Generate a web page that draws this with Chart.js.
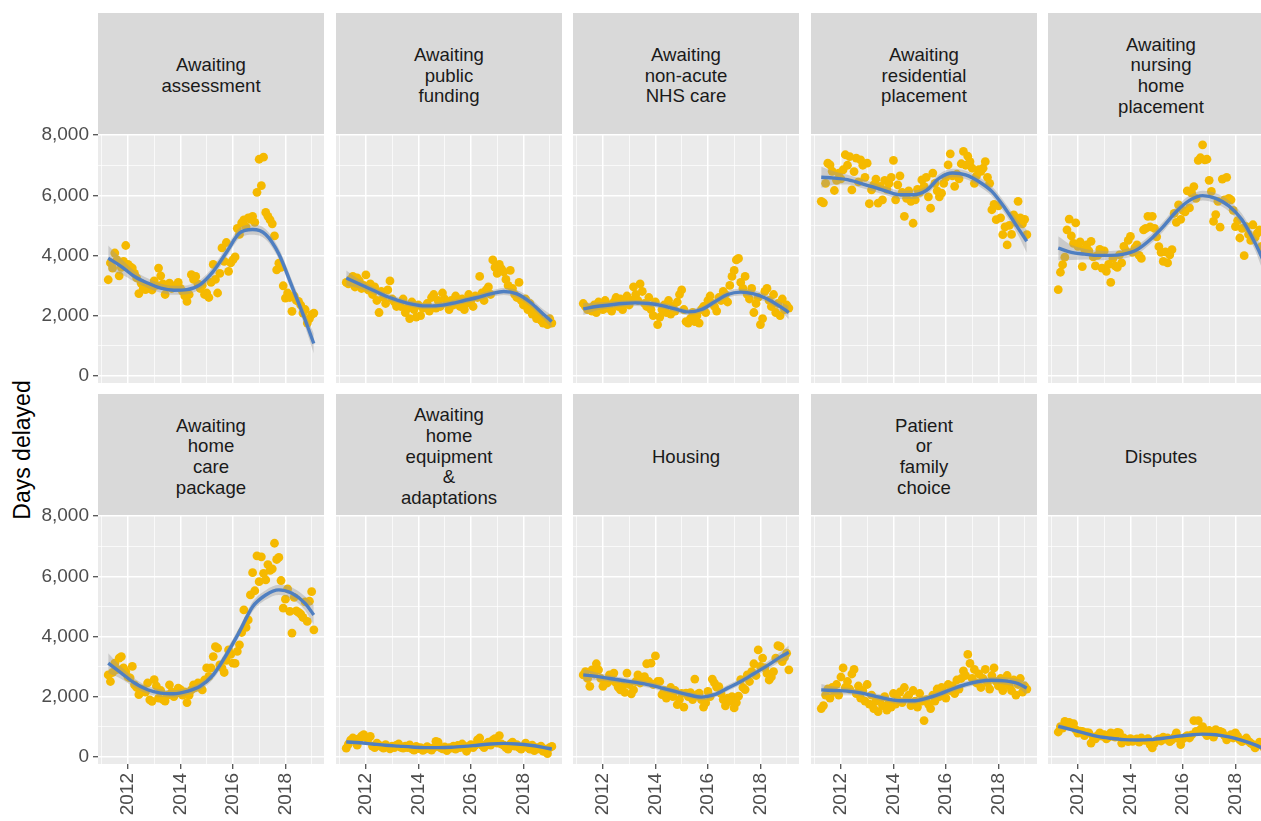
<!DOCTYPE html>
<html>
<head>
<meta charset="utf-8">
<script src="https://cdn.jsdelivr.net/npm/chart.js@4"></script>
<style>
  html, body { margin: 0; padding: 0; background: #fff; overflow: hidden; }
  body { width: 1261px; height: 821px; position: relative; font-family: 'Liberation Sans', Arial, sans-serif; }
  .strip {
    position: absolute; background: #d9d9d9; color: #1a1a1a;
    font-size: 18.6px; line-height: 20.7px; white-space: pre; text-align: center;
    display: flex; align-items: center; justify-content: center;
    box-sizing: border-box; padding-top: 5px;
  }
  canvas { position: absolute; }
  .ytitle {
    position: absolute; left: 22px; top: 450px; color: #000; font-size: 23px; white-space: nowrap;
    transform: translate(-50%, -50%) rotate(-90deg);
  }
</style>
</head>
<body>
<div class="ytitle">Days delayed</div>
<script>
// monthly observations, April 2011 onwards
const firstMonth = 2011.25;

const xTicks = [2011, 2012, 2013, 2014, 2015, 2016, 2017, 2018, 2019];
const xLabelled = [2012, 2014, 2016, 2018];
const yTicks = [0, 1000, 2000, 3000, 4000, 5000, 6000, 7000, 8000];
const yLabelled = [0, 2000, 4000, 6000, 8000];

// knots of the loess fit
const fitX = [2011.25, 2011.75, 2012.25, 2012.75, 2013.25, 2013.75, 2014.25, 2014.75, 2015.25,
              2015.75, 2016.25, 2016.75, 2017.25, 2017.75, 2018.25, 2018.75, 2019.08];

const assessment = [
  3190, 3750, 3580, 4080, 3850, 3320, 3600, 3800, 4330, 3700, 3630, 3580,
  3400, 3250, 2730, 3080, 2900, 2860, 2980, 2900, 2850, 3150, 3000, 3580,
  3320, 3050, 2700, 2950, 3080, 2900, 2980, 3000, 3100, 2900, 2800, 2650,
  2470, 2700, 3360, 3200, 3300, 3050, 2900, 3000, 2700, 2750, 2600, 3100,
  3700, 3200, 2750, 3400, 4250, 3800, 4430, 3470, 3750, 3850, 3950, 4900,
  4700, 5080, 5180, 4950, 5250, 5200, 5300, 5100, 6100, 7200, 6320, 7270,
  5430, 5300, 5180, 5050, 4650, 3520, 3740, 3600, 2990, 2580, 2750, 2600,
  2140, 2650, 2500, 2470, 2350, 2080, 2200, 1750, 1900, 2030, 2080];
const assessmentFit = [3910, 3630, 3300, 3080, 2910, 2840, 2860, 3030, 3470, 4100, 4740, 4860, 4700, 4050, 2970, 1860, 1070];
const assessmentSe = [420, 260, 180, 160, 150, 150, 150, 150, 160, 170, 170, 170, 170, 180, 200, 230, 330];

const publicFunding = [
  3100, 3050, 3200, 3300, 2950, 3250, 3150, 2900, 3000, 3350, 2850, 3050,
  2700, 2950, 2500, 2100, 2800, 2600, 2400, 2850, 3150, 2550, 2450, 2300,
  2400, 2300, 2550, 2100, 2250, 1900, 2450, 2200, 1950, 2350, 2000, 2250,
  2300, 2400, 2150, 2600, 2700, 2250, 2500, 2300, 2750, 2550, 2400, 2200,
  2500, 2350, 2650, 2450, 2300, 2550, 2200, 2400, 2700, 2500, 2300, 2650,
  2600, 3300, 2750, 2500, 2850, 2950, 2700, 3850, 3600, 3400, 3700, 3550,
  3450, 3200, 3000, 3500, 2900, 2700, 2600, 3100, 2500, 2350, 2550, 2200,
  2400, 2050, 2200, 1900, 2000, 1850, 1750, 1800, 1700, 1900, 1750];
const publicFundingFit = [3250, 3050, 2850, 2650, 2500, 2380, 2320, 2330, 2400, 2500, 2600, 2720, 2800, 2720, 2450, 2050, 1800];
const publicFundingSe = [250, 150, 120, 110, 100, 100, 100, 100, 100, 100, 110, 110, 120, 130, 140, 160, 220];

const nonAcute = [
  2400, 2300, 2200, 2250, 2150, 2350, 2100, 2450, 2300, 2200, 2500, 2250,
  2350, 2150, 2450, 2600, 2300, 2550, 2200, 2400, 2650, 2350, 2500, 2950,
  2700, 2500, 3050, 2800, 2400, 2300, 2600, 2200, 2000, 2450, 1700, 1950,
  2200, 2350, 2100, 2500, 2050, 2300, 2150, 2450, 2700, 2850, 2200, 1800,
  1750, 1900, 2100, 1800, 2000, 1750, 2200, 2300, 2100, 2500, 2650, 2400,
  2300, 2150, 2600, 2500, 2800, 2700, 2450, 3000, 3300, 3500, 3850, 3900,
  3100, 2900, 3300, 2700, 2550, 2900, 2100, 2400, 2600, 1700, 1900, 2800,
  2900, 2500, 2300, 2700, 2100, 2400, 2000, 2550, 2200, 2350, 2250];
const nonAcuteFit = [2220, 2300, 2350, 2400, 2420, 2400, 2330, 2220, 2120, 2200, 2450, 2700, 2780, 2720, 2560, 2300, 2100];
const nonAcuteSe = [200, 130, 110, 100, 100, 100, 100, 100, 100, 100, 110, 110, 110, 120, 130, 150, 220];

const residential = [
  5800, 5750, 6400, 7070, 7010, 6800, 6160, 6500, 6740, 6550, 6850, 7350,
  7000, 7290, 6180, 6790, 7240, 6450, 7180, 7000, 6600, 7070, 5720, 6180,
  6350, 6540, 5740, 6300, 5850, 6500, 6200, 6400, 6600, 7160, 5850, 6350,
  6650, 6100, 5300, 5900, 6150, 5800, 5070, 5850, 6200, 6100, 6510, 6300,
  6600, 5950, 5570, 6740, 6400, 6150, 5950, 6070, 6400, 6600, 7010, 7380,
  6650, 6300, 6700, 6550, 7050, 7460, 7000, 7300, 7120, 6900, 6400, 6650,
  6850, 6800, 6900, 7120, 6600, 6400, 5520, 5700, 5190, 5650, 5250, 4690,
  4950, 4350, 5000, 4700, 5350, 5100, 5800, 5250, 5050, 5200, 4690];
const residentialFit = [6600, 6570, 6520, 6400, 6270, 6130, 6020, 6020, 6160, 6570, 6740, 6680, 6460, 6130, 5570, 4910, 4470];
const residentialSe = [350, 220, 160, 150, 140, 140, 140, 140, 140, 140, 140, 140, 150, 160, 180, 230, 380];

const nursingHome = [
  2860, 3440, 3690, 3940, 4850, 5210, 4650, 4400, 5080, 4300, 4450, 3630,
  4200, 4350, 4150, 4470, 3950, 3650, 4000, 4200, 3580, 4150, 3470, 3700,
  3100, 3900, 3650, 3600, 4020, 3750, 4300, 4150, 4500, 4630, 4100, 4250,
  4350, 4000, 3900, 4850, 4900, 5300, 4950, 5300, 4900, 4620, 4290, 4100,
  3800, 4120, 3750, 4020, 4190, 5400, 5100, 5680, 5200, 5500, 5450, 6150,
  5580, 6070, 6290, 5900, 7160, 7250, 7680, 7180, 7200, 6500, 6130, 5130,
  5360, 5800, 4940, 6540, 5850, 6600, 5900, 5850, 5500, 4960, 5160, 4580,
  4900, 3990, 4960, 4700, 4500, 5020, 4600, 4740, 4850, 4300, 4100];
const nursingHomeFit = [4240, 4100, 4045, 4000, 4000, 4045, 4190, 4520, 4960, 5460, 5830, 5990, 5900, 5650, 5185, 4410, 3800];
const nursingHomeSe = [400, 250, 180, 160, 150, 150, 150, 150, 160, 160, 160, 160, 170, 180, 200, 240, 400];

const homeCare = [
  2720, 2500, 2800, 3110, 2900, 3280, 3330, 2950, 2830, 2650, 2620, 3000,
  2390, 2300, 2060, 2250, 2230, 2150, 2450, 1890, 1840, 2560, 2350, 1950,
  2200, 1900, 1850, 2050, 2390, 2150, 2000, 2100, 2280, 2230, 2050, 2150,
  1800, 2050, 2220, 2390, 2300, 2450, 2350, 2220, 2550, 2950, 2670, 2950,
  3330, 3660, 3610, 3050, 2950, 2800, 3200, 3550, 3400, 3110, 3100, 3500,
  3720, 4130, 4880, 4300, 4550, 5380, 6120, 5520, 6680, 5820, 6650, 6100,
  5880, 6390, 6200, 6250, 7100, 6560, 6630, 5860, 4940, 5240, 5580, 4830,
  4110, 5300, 4850, 4800, 4740, 4630, 5150, 4500, 5170, 5490, 4220];
const homeCareFit = [3110, 2780, 2450, 2225, 2115, 2090, 2170, 2340, 2720, 3390, 4160, 4990, 5380, 5550, 5435, 5100, 4715];
const homeCareSe = [330, 200, 150, 130, 120, 120, 120, 130, 140, 150, 150, 160, 160, 170, 190, 230, 330];

const equipment = [
  280, 420, 550, 620, 580, 380, 600, 680, 730, 640, 580, 675,
  350, 300, 450, 380, 330, 280, 400, 320, 260, 350, 300, 380,
  420, 310, 280, 350, 300, 390, 260, 220, 340, 270, 300, 210,
  250, 330, 280, 220, 300, 510, 480, 300, 260, 320, 200, 300,
  280, 350, 250, 370, 300, 420, 350, 180, 330, 400, 300, 380,
  560, 620, 380, 300, 420, 480, 380, 550, 600, 450, 700, 420,
  380, 300, 250, 420, 480, 350, 400, 300, 250, 330, 450, 300,
  250, 380, 200, 300, 260, 350, 180, 250, 100, 300, 340];
const equipmentFit = [490, 460, 420, 380, 350, 320, 300, 300, 310, 340, 380, 420, 440, 420, 380, 310, 250];
const equipmentSe = [70, 40, 30, 30, 25, 25, 25, 25, 25, 25, 25, 30, 30, 30, 30, 40, 70];

const housing = [
  2720, 2830, 2600, 2340, 2890, 2750, 3090, 2890, 2600, 2340, 2500, 2450,
  2720, 2550, 2780, 2450, 2310, 2220, 2350, 2140, 2780, 2400, 2090, 2220,
  2500, 2720, 2450, 2550, 2660, 3090, 2500, 3110, 2400, 3350, 2500, 2500,
  2060, 2200, 1950, 2110, 2300, 2000, 2200, 1730, 1900, 2100, 1650, 2110,
  2000, 2130, 1900, 2580, 2060, 2110, 1900, 1650, 1790, 2170, 2000, 2580,
  2450, 2310, 2330, 2100, 1900, 1690, 1950, 1840, 2000, 1620, 1800, 2010,
  2560, 2300, 2230, 2720, 2500, 2830, 3090, 2700, 3550, 3000, 3280, 2950,
  2770, 2550, 2650, 2830, 3280, 3690, 3660, 3160, 3300, 3440, 2890];
const housingFit = [2720, 2670, 2600, 2535, 2470, 2390, 2280, 2170, 2060, 1980, 2060, 2280, 2500, 2760, 3020, 3310, 3470];
const housingSe = [200, 130, 110, 100, 100, 100, 100, 100, 100, 100, 100, 100, 110, 120, 130, 160, 230];

const familyChoice = [
  1600, 1700, 2050, 2250, 1950, 2300, 2150, 2400, 2050, 2650, 2950, 2300,
  2500, 2250, 2750, 2900, 2100, 2350, 1950, 2200, 1850, 2400, 1750, 2050,
  1600, 1850, 1500, 1900, 1700, 2000, 1550, 1800, 1650, 2100, 1750, 1900,
  2150, 1800, 2300, 1950, 2050, 1700, 2200, 1850, 1650, 2100, 1850, 1200,
  1900, 1750, 1600, 2050, 1850, 2250, 2000, 2300, 2150, 1950, 2400, 2200,
  2350, 2100, 2550, 2250, 2600, 2850, 2700, 3400, 3100, 2600, 2900, 2450,
  2750, 2300, 2600, 2900, 2450, 2250, 2700, 2950, 2500, 2350, 2600, 2200,
  2450, 2700, 2350, 2200, 2550, 2050, 2400, 2600, 2150, 2350, 2250];
const familyChoiceFit = [2220, 2200, 2180, 2120, 2020, 1920, 1860, 1860, 1940, 2080, 2250, 2400, 2500, 2540, 2520, 2430, 2280];
const familyChoiceSe = [200, 130, 110, 100, 100, 100, 100, 100, 100, 100, 100, 100, 100, 110, 120, 150, 220];

const disputes = [
  820, 1000, 950, 1170, 1050, 1140, 1000, 1100, 900, 780, 850, 840,
  700, 800, 790, 450, 650, 590, 700, 790, 680, 730, 590, 650,
  790, 760, 650, 810, 790, 450, 620, 560, 500, 600, 510, 560,
  590, 480, 620, 550, 540, 600, 400, 290, 450, 550, 590, 520,
  650, 580, 620, 500, 560, 650, 790, 600, 400, 590, 650, 700,
  620, 720, 1200, 840, 1200, 900, 1000, 790, 700, 870, 750, 650,
  900, 800, 840, 810, 700, 560, 650, 730, 620, 790, 680, 560,
  500, 560, 620, 510, 450, 400, 290, 380, 480, 420, 300];
const disputesFit = [1010, 900, 785, 675, 610, 565, 555, 565, 610, 675, 720, 750, 730, 655, 540, 390, 260];
const disputesSe = [90, 55, 40, 35, 35, 35, 35, 35, 35, 35, 35, 35, 35, 40, 45, 55, 90];

const panels = [
  { title: 'Awaiting\nassessment', values: assessment, fit: assessmentFit, se: assessmentSe },
  { title: 'Awaiting\npublic\nfunding', values: publicFunding, fit: publicFundingFit, se: publicFundingSe },
  { title: 'Awaiting\nnon-acute\nNHS care', values: nonAcute, fit: nonAcuteFit, se: nonAcuteSe },
  { title: 'Awaiting\nresidential\nplacement', values: residential, fit: residentialFit, se: residentialSe },
  { title: 'Awaiting\nnursing\nhome\nplacement', values: nursingHome, fit: nursingHomeFit, se: nursingHomeSe },
  { title: 'Awaiting\nhome\ncare\npackage', values: homeCare, fit: homeCareFit, se: homeCareSe },
  { title: 'Awaiting\nhome\nequipment\n&\nadaptations', values: equipment, fit: equipmentFit, se: equipmentSe },
  { title: 'Housing', values: housing, fit: housingFit, se: housingSe },
  { title: 'Patient\nor\nfamily\nchoice', values: familyChoice, fit: familyChoiceFit, se: familyChoiceSe },
  { title: 'Disputes', values: disputes, fit: disputesFit, se: disputesSe }
];

// layout of the facet grid
const colLeft = [98, 336, 573, 811, 1048];
const panelW = 226;
const stripTop = [13, 394];
const stripH = 121;
const panelTop = [134, 515];
const panelH = 249;
const xAxisH = 56;
const labelRoom = 12; // extra canvas room so the end y labels are not cut

const FONT = "'Liberation Sans', Arial, sans-serif";
const POINT = '#f5b900';
const LINE = '#4f7fc1';

const panelBg = {
  id: 'panelBg',
  beforeDraw(chart) {
    const { ctx, chartArea: a } = chart;
    ctx.save();
    ctx.fillStyle = '#ebebeb';
    ctx.fillRect(a.left, a.top, a.right - a.left, a.bottom - a.top);
    ctx.restore();
  }
};

panels.forEach((p, k) => {
  const row = Math.floor(k / 5), col = k % 5;
  const isLeft = col === 0, isBottom = row === 1;

  const strip = document.createElement('div');
  strip.className = 'strip';
  strip.style.left = colLeft[col] + 'px';
  strip.style.top = stripTop[row] + 'px';
  strip.style.width = panelW + 'px';
  strip.style.height = stripH + 'px';
  strip.textContent = p.title;
  document.body.appendChild(strip);

  const yAxisW = isLeft ? colLeft[0] : 0;
  const xH = isBottom ? xAxisH : 0;
  const padTop = isLeft ? labelRoom : 0;
  const padBottom = isLeft && !isBottom ? labelRoom : 0;
  const canvas = document.createElement('canvas');
  canvas.width = panelW + yAxisW;
  canvas.height = panelH + xH + padTop + padBottom;
  canvas.style.left = (colLeft[col] - yAxisW) + 'px';
  canvas.style.top = (panelTop[row] - padTop) + 'px';
  document.body.appendChild(canvas);

  const points = p.values.map((v, i) => ({ x: firstMonth + i / 12, y: v }));
  const fitLine = fitX.map((x, i) => ({ x, y: p.fit[i] }));
  const lower = fitX.map((x, i) => ({ x, y: p.fit[i] - p.se[i] }));
  const upper = fitX.map((x, i) => ({ x, y: p.fit[i] + p.se[i] }));

  new Chart(canvas, {
    type: 'line',
    data: {
      datasets: [
        { data: fitLine, borderColor: LINE, borderWidth: 3.4, pointRadius: 0, cubicInterpolationMode: 'monotone', fill: false, order: 0 },
        { data: lower, borderWidth: 0, borderColor: 'rgba(0,0,0,0)', pointRadius: 0, cubicInterpolationMode: 'monotone', fill: false, order: 1 },
        { data: upper, borderWidth: 0, borderColor: 'rgba(0,0,0,0)', pointRadius: 0, cubicInterpolationMode: 'monotone',
          fill: '-1', backgroundColor: 'rgba(153,153,153,0.4)', order: 1 },
        { data: points, showLine: false, pointRadius: 4.4, pointBorderWidth: 0, pointBackgroundColor: POINT, order: 2 }
      ]
    },
    options: {
      responsive: false,
      animation: false,
      events: [],
      layout: { padding: { top: padTop, bottom: padBottom, left: 0, right: 0 }, autoPadding: false },
      plugins: { legend: { display: false }, tooltip: { enabled: false } },
      scales: {
        x: {
          type: 'linear', min: 2010.86, max: 2019.47,
          afterBuildTicks: s => { s.ticks = xTicks.map(v => ({ value: v })); },
          afterFit: s => { s.height = xH; s.paddingLeft = 0; s.paddingRight = 0; s.paddingTop = 0; s.paddingBottom = 0; },
          border: { display: false },
          grid: {
            color: '#ffffff',
            lineWidth: c => xLabelled.includes(c.tick.value) ? 1.5 : 0.7,
            drawTicks: isBottom, tickLength: 5, tickWidth: 1.1,
            tickColor: c => xLabelled.includes(c.tick.value) ? '#333333' : 'rgba(0,0,0,0)'
          },
          ticks: {
            display: isBottom, autoSkip: false, minRotation: 90, maxRotation: 90, padding: 4,
            color: '#4d4d4d', font: { family: FONT, size: 19 },
            callback: v => xLabelled.includes(v) ? String(v) : ''
          }
        },
        y: {
          type: 'linear', min: -245, max: 8040,
          afterBuildTicks: s => { s.ticks = yTicks.map(v => ({ value: v })); },
          afterFit: s => { s.width = yAxisW; s.paddingTop = 0; s.paddingBottom = 0; s.paddingLeft = 0; s.paddingRight = 0; },
          border: { display: false },
          grid: {
            color: '#ffffff',
            lineWidth: c => yLabelled.includes(c.tick.value) ? 1.5 : 0.7,
            drawTicks: isLeft, tickLength: 5, tickWidth: 1.1,
            tickColor: c => yLabelled.includes(c.tick.value) ? '#333333' : 'rgba(0,0,0,0)'
          },
          ticks: {
            display: isLeft, autoSkip: false, padding: 4,
            color: '#4d4d4d', font: { family: FONT, size: 19 },
            callback: v => yLabelled.includes(v) ? v.toLocaleString('en-US') : ''
          }
        }
      }
    },
    plugins: [panelBg]
  });
});
</script>
</body>
</html>
